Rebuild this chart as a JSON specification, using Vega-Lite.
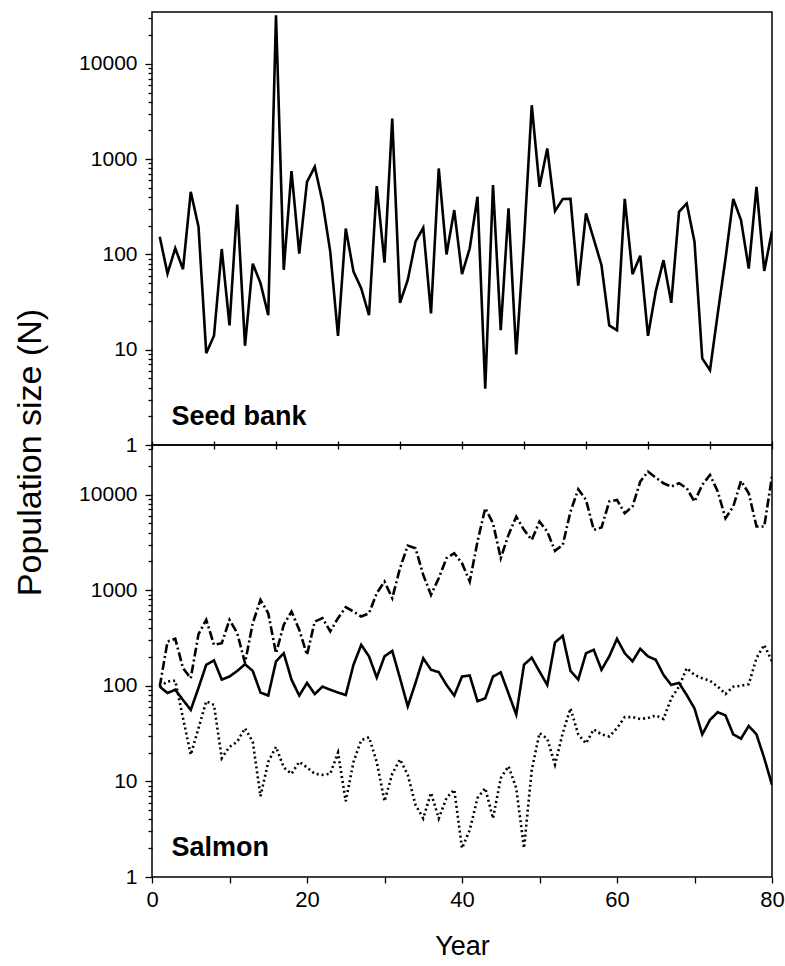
{
  "$schema": "https://vega.github.io/schema/vega-lite/v6.json",
  "padding": {"left": 12, "top": 6, "right": 0, "bottom": 5},
  "background": "white",
  "spacing": 0,
  "bounds": "flush",
  "config": {
    "view": {"stroke": "black", "strokeWidth": 1.5},
    "font": "Liberation Sans",
    "axis": {
      "grid": false,
      "domain": false,
      "tickColor": "black",
      "tickWidth": 1.3,
      "labelColor": "black",
      "titleColor": "black",
      "labelFont": "Liberation Sans",
      "titleFont": "Liberation Sans",
      "titleFontWeight": "normal",
      "labelFontSize": 21,
      "titleFontSize": 27,
      "labelOverlap": false,
      "labelFlush": false
    }
  },
  "datasets": {
    "seed": [
      {"year": 1, "n": 153}, {"year": 2, "n": 63}, {"year": 3, "n": 116}, {"year": 4, "n": 70}, {"year": 5, "n": 454},
      {"year": 6, "n": 195}, {"year": 7, "n": 9.2}, {"year": 8, "n": 14}, {"year": 9, "n": 114}, {"year": 10, "n": 18},
      {"year": 11, "n": 334}, {"year": 12, "n": 11}, {"year": 13, "n": 80}, {"year": 14, "n": 50}, {"year": 15, "n": 23},
      {"year": 16, "n": 32400}, {"year": 17, "n": 69}, {"year": 18, "n": 748}, {"year": 19, "n": 102}, {"year": 20, "n": 578},
      {"year": 21, "n": 831}, {"year": 22, "n": 357}, {"year": 23, "n": 107}, {"year": 24, "n": 14}, {"year": 25, "n": 187},
      {"year": 26, "n": 66}, {"year": 27, "n": 44}, {"year": 28, "n": 23}, {"year": 29, "n": 521}, {"year": 30, "n": 82},
      {"year": 31, "n": 2670}, {"year": 32, "n": 31}, {"year": 33, "n": 54}, {"year": 34, "n": 136}, {"year": 35, "n": 190},
      {"year": 36, "n": 24}, {"year": 37, "n": 798}, {"year": 38, "n": 100}, {"year": 39, "n": 292}, {"year": 40, "n": 62},
      {"year": 41, "n": 116}, {"year": 42, "n": 403}, {"year": 43, "n": 3.9}, {"year": 44, "n": 534}, {"year": 45, "n": 16},
      {"year": 46, "n": 304}, {"year": 47, "n": 8.9}, {"year": 48, "n": 140}, {"year": 49, "n": 3680}, {"year": 50, "n": 512},
      {"year": 51, "n": 1294}, {"year": 52, "n": 285}, {"year": 53, "n": 381}, {"year": 54, "n": 383}, {"year": 55, "n": 47},
      {"year": 56, "n": 269}, {"year": 57, "n": 145}, {"year": 58, "n": 77}, {"year": 59, "n": 18}, {"year": 60, "n": 16},
      {"year": 61, "n": 383}, {"year": 62, "n": 62}, {"year": 63, "n": 97}, {"year": 64, "n": 14}, {"year": 65, "n": 41},
      {"year": 66, "n": 87}, {"year": 67, "n": 31}, {"year": 68, "n": 280}, {"year": 69, "n": 343}, {"year": 70, "n": 136},
      {"year": 71, "n": 8.1}, {"year": 72, "n": 6.1}, {"year": 73, "n": 24}, {"year": 74, "n": 90}, {"year": 75, "n": 383},
      {"year": 76, "n": 229}, {"year": 77, "n": 71}, {"year": 78, "n": 512}, {"year": 79, "n": 67}, {"year": 80, "n": 176}
    ],
    "salmon": [
      {"year": 1, "series": "solid", "n": 98}, {"year": 2, "series": "solid", "n": 84}, {"year": 3, "series": "solid", "n": 91}, {"year": 4, "series": "solid", "n": 71},
      {"year": 5, "series": "solid", "n": 56}, {"year": 6, "series": "solid", "n": 95}, {"year": 7, "series": "solid", "n": 166}, {"year": 8, "series": "solid", "n": 184},
      {"year": 9, "series": "solid", "n": 116}, {"year": 10, "series": "solid", "n": 125}, {"year": 11, "series": "solid", "n": 143}, {"year": 12, "series": "solid", "n": 168},
      {"year": 13, "series": "solid", "n": 143}, {"year": 14, "series": "solid", "n": 85}, {"year": 15, "series": "solid", "n": 79}, {"year": 16, "series": "solid", "n": 180},
      {"year": 17, "series": "solid", "n": 219}, {"year": 18, "series": "solid", "n": 116}, {"year": 19, "series": "solid", "n": 79}, {"year": 20, "series": "solid", "n": 107},
      {"year": 21, "series": "solid", "n": 82}, {"year": 22, "series": "solid", "n": 98}, {"year": 23, "series": "solid", "n": 91}, {"year": 24, "series": "solid", "n": 85},
      {"year": 25, "series": "solid", "n": 80}, {"year": 26, "series": "solid", "n": 166}, {"year": 27, "series": "solid", "n": 268}, {"year": 28, "series": "solid", "n": 203},
      {"year": 29, "series": "solid", "n": 122}, {"year": 30, "series": "solid", "n": 203}, {"year": 31, "series": "solid", "n": 232}, {"year": 32, "series": "solid", "n": 120},
      {"year": 33, "series": "solid", "n": 61}, {"year": 34, "series": "solid", "n": 107}, {"year": 35, "series": "solid", "n": 194}, {"year": 36, "series": "solid", "n": 147},
      {"year": 37, "series": "solid", "n": 139}, {"year": 38, "series": "solid", "n": 102}, {"year": 39, "series": "solid", "n": 79}, {"year": 40, "series": "solid", "n": 125},
      {"year": 41, "series": "solid", "n": 128}, {"year": 42, "series": "solid", "n": 69}, {"year": 43, "series": "solid", "n": 74}, {"year": 44, "series": "solid", "n": 125},
      {"year": 45, "series": "solid", "n": 138}, {"year": 46, "series": "solid", "n": 83}, {"year": 47, "series": "solid", "n": 50}, {"year": 48, "series": "solid", "n": 166},
      {"year": 49, "series": "solid", "n": 197}, {"year": 50, "series": "solid", "n": 141}, {"year": 51, "series": "solid", "n": 102}, {"year": 52, "series": "solid", "n": 284},
      {"year": 53, "series": "solid", "n": 333}, {"year": 54, "series": "solid", "n": 143}, {"year": 55, "series": "solid", "n": 116}, {"year": 56, "series": "solid", "n": 219},
      {"year": 57, "series": "solid", "n": 238}, {"year": 58, "series": "solid", "n": 147}, {"year": 59, "series": "solid", "n": 203}, {"year": 60, "series": "solid", "n": 310},
      {"year": 61, "series": "solid", "n": 219}, {"year": 62, "series": "solid", "n": 180}, {"year": 63, "series": "solid", "n": 244}, {"year": 64, "series": "solid", "n": 203},
      {"year": 65, "series": "solid", "n": 187}, {"year": 66, "series": "solid", "n": 130}, {"year": 67, "series": "solid", "n": 102}, {"year": 68, "series": "solid", "n": 107},
      {"year": 69, "series": "solid", "n": 80}, {"year": 70, "series": "solid", "n": 58}, {"year": 71, "series": "solid", "n": 31}, {"year": 72, "series": "solid", "n": 44},
      {"year": 73, "series": "solid", "n": 53}, {"year": 74, "series": "solid", "n": 49}, {"year": 75, "series": "solid", "n": 31}, {"year": 76, "series": "solid", "n": 28},
      {"year": 77, "series": "solid", "n": 38}, {"year": 78, "series": "solid", "n": 31}, {"year": 79, "series": "solid", "n": 17.5}, {"year": 80, "series": "solid", "n": 9.2},

      {"year": 1, "series": "dashdot", "n": 98}, {"year": 2, "series": "dashdot", "n": 290}, {"year": 3, "series": "dashdot", "n": 310}, {"year": 4, "series": "dashdot", "n": 153},
      {"year": 5, "series": "dashdot", "n": 120}, {"year": 6, "series": "dashdot", "n": 347}, {"year": 7, "series": "dashdot", "n": 490}, {"year": 8, "series": "dashdot", "n": 268},
      {"year": 9, "series": "dashdot", "n": 279}, {"year": 10, "series": "dashdot", "n": 490}, {"year": 11, "series": "dashdot", "n": 355}, {"year": 12, "series": "dashdot", "n": 173},
      {"year": 13, "series": "dashdot", "n": 452}, {"year": 14, "series": "dashdot", "n": 792}, {"year": 15, "series": "dashdot", "n": 574}, {"year": 16, "series": "dashdot", "n": 219},
      {"year": 17, "series": "dashdot", "n": 434}, {"year": 18, "series": "dashdot", "n": 598}, {"year": 19, "series": "dashdot", "n": 385}, {"year": 20, "series": "dashdot", "n": 211},
      {"year": 21, "series": "dashdot", "n": 470}, {"year": 22, "series": "dashdot", "n": 510}, {"year": 23, "series": "dashdot", "n": 370}, {"year": 24, "series": "dashdot", "n": 510},
      {"year": 25, "series": "dashdot", "n": 664}, {"year": 26, "series": "dashdot", "n": 598}, {"year": 27, "series": "dashdot", "n": 530}, {"year": 28, "series": "dashdot", "n": 573},
      {"year": 29, "series": "dashdot", "n": 930}, {"year": 30, "series": "dashdot", "n": 1231}, {"year": 31, "series": "dashdot", "n": 825}, {"year": 32, "series": "dashdot", "n": 1700},
      {"year": 33, "series": "dashdot", "n": 2930}, {"year": 34, "series": "dashdot", "n": 2750}, {"year": 35, "series": "dashdot", "n": 1446}, {"year": 36, "series": "dashdot", "n": 894},
      {"year": 37, "series": "dashdot", "n": 1334}, {"year": 38, "series": "dashdot", "n": 2160}, {"year": 39, "series": "dashdot", "n": 2437}, {"year": 40, "series": "dashdot", "n": 1916},
      {"year": 41, "series": "dashdot", "n": 1233}, {"year": 42, "series": "dashdot", "n": 3226}, {"year": 43, "series": "dashdot", "n": 7200}, {"year": 44, "series": "dashdot", "n": 5014},
      {"year": 45, "series": "dashdot", "n": 2160}, {"year": 46, "series": "dashdot", "n": 3786}, {"year": 47, "series": "dashdot", "n": 5890}, {"year": 48, "series": "dashdot", "n": 4275},
      {"year": 49, "series": "dashdot", "n": 3358}, {"year": 50, "series": "dashdot", "n": 5220}, {"year": 51, "series": "dashdot", "n": 4105}, {"year": 52, "series": "dashdot", "n": 2577},
      {"year": 53, "series": "dashdot", "n": 2978}, {"year": 54, "series": "dashdot", "n": 6640}, {"year": 55, "series": "dashdot", "n": 11370}, {"year": 56, "series": "dashdot", "n": 8800},
      {"year": 57, "series": "dashdot", "n": 4275}, {"year": 58, "series": "dashdot", "n": 4520}, {"year": 59, "series": "dashdot", "n": 8450}, {"year": 60, "series": "dashdot", "n": 8800},
      {"year": 61, "series": "dashdot", "n": 6380}, {"year": 62, "series": "dashdot", "n": 7500}, {"year": 63, "series": "dashdot", "n": 13680}, {"year": 64, "series": "dashdot", "n": 17400},
      {"year": 65, "series": "dashdot", "n": 15060}, {"year": 66, "series": "dashdot", "n": 13130}, {"year": 67, "series": "dashdot", "n": 12130}, {"year": 68, "series": "dashdot", "n": 13130},
      {"year": 69, "series": "dashdot", "n": 11650}, {"year": 70, "series": "dashdot", "n": 8450}, {"year": 71, "series": "dashdot", "n": 12620}, {"year": 72, "series": "dashdot", "n": 16070},
      {"year": 73, "series": "dashdot", "n": 10750}, {"year": 74, "series": "dashdot", "n": 5660}, {"year": 75, "series": "dashdot", "n": 7500}, {"year": 76, "series": "dashdot", "n": 13900},
      {"year": 77, "series": "dashdot", "n": 10320}, {"year": 78, "series": "dashdot", "n": 4630}, {"year": 79, "series": "dashdot", "n": 4630}, {"year": 80, "series": "dashdot", "n": 15500},

      {"year": 1, "series": "dotted", "n": 98}, {"year": 2, "series": "dotted", "n": 111}, {"year": 3, "series": "dotted", "n": 113}, {"year": 4, "series": "dotted", "n": 46},
      {"year": 5, "series": "dotted", "n": 19}, {"year": 6, "series": "dotted", "n": 36}, {"year": 7, "series": "dotted", "n": 69}, {"year": 8, "series": "dotted", "n": 63},
      {"year": 9, "series": "dotted", "n": 17.5}, {"year": 10, "series": "dotted", "n": 23}, {"year": 11, "series": "dotted", "n": 26}, {"year": 12, "series": "dotted", "n": 36},
      {"year": 13, "series": "dotted", "n": 26}, {"year": 14, "series": "dotted", "n": 7}, {"year": 15, "series": "dotted", "n": 16}, {"year": 16, "series": "dotted", "n": 23},
      {"year": 17, "series": "dotted", "n": 14}, {"year": 18, "series": "dotted", "n": 12}, {"year": 19, "series": "dotted", "n": 16}, {"year": 20, "series": "dotted", "n": 14},
      {"year": 21, "series": "dotted", "n": 12}, {"year": 22, "series": "dotted", "n": 11.7}, {"year": 23, "series": "dotted", "n": 12}, {"year": 24, "series": "dotted", "n": 20},
      {"year": 25, "series": "dotted", "n": 6.2}, {"year": 26, "series": "dotted", "n": 16}, {"year": 27, "series": "dotted", "n": 27}, {"year": 28, "series": "dotted", "n": 29},
      {"year": 29, "series": "dotted", "n": 16}, {"year": 30, "series": "dotted", "n": 6.2}, {"year": 31, "series": "dotted", "n": 12}, {"year": 32, "series": "dotted", "n": 17},
      {"year": 33, "series": "dotted", "n": 11.7}, {"year": 34, "series": "dotted", "n": 5.7}, {"year": 35, "series": "dotted", "n": 4.1}, {"year": 36, "series": "dotted", "n": 7.6},
      {"year": 37, "series": "dotted", "n": 4.1}, {"year": 38, "series": "dotted", "n": 6.7}, {"year": 39, "series": "dotted", "n": 8.2}, {"year": 40, "series": "dotted", "n": 2.0},
      {"year": 41, "series": "dotted", "n": 3.1}, {"year": 42, "series": "dotted", "n": 6.7}, {"year": 43, "series": "dotted", "n": 8.5}, {"year": 44, "series": "dotted", "n": 4.1},
      {"year": 45, "series": "dotted", "n": 10.8}, {"year": 46, "series": "dotted", "n": 14.4}, {"year": 47, "series": "dotted", "n": 8.5}, {"year": 48, "series": "dotted", "n": 2.0},
      {"year": 49, "series": "dotted", "n": 13.2}, {"year": 50, "series": "dotted", "n": 32}, {"year": 51, "series": "dotted", "n": 28}, {"year": 52, "series": "dotted", "n": 15},
      {"year": 53, "series": "dotted", "n": 32}, {"year": 54, "series": "dotted", "n": 58}, {"year": 55, "series": "dotted", "n": 31}, {"year": 56, "series": "dotted", "n": 25},
      {"year": 57, "series": "dotted", "n": 35}, {"year": 58, "series": "dotted", "n": 31}, {"year": 59, "series": "dotted", "n": 29.5}, {"year": 60, "series": "dotted", "n": 36},
      {"year": 61, "series": "dotted", "n": 47}, {"year": 62, "series": "dotted", "n": 47}, {"year": 63, "series": "dotted", "n": 45}, {"year": 64, "series": "dotted", "n": 46},
      {"year": 65, "series": "dotted", "n": 49}, {"year": 66, "series": "dotted", "n": 45}, {"year": 67, "series": "dotted", "n": 74}, {"year": 68, "series": "dotted", "n": 98},
      {"year": 69, "series": "dotted", "n": 153}, {"year": 70, "series": "dotted", "n": 130}, {"year": 71, "series": "dotted", "n": 120}, {"year": 72, "series": "dotted", "n": 113},
      {"year": 73, "series": "dotted", "n": 98}, {"year": 74, "series": "dotted", "n": 82}, {"year": 75, "series": "dotted", "n": 98}, {"year": 76, "series": "dotted", "n": 100},
      {"year": 77, "series": "dotted", "n": 104}, {"year": 78, "series": "dotted", "n": 195}, {"year": 79, "series": "dotted", "n": 268}, {"year": 80, "series": "dotted", "n": 180}
    ],
    "seedLabel": [{"label": "Seed bank"}],
    "salmonLabel": [{"label": "Salmon"}]
  },
  "vconcat": [
    {
      "width": 620,
      "height": 433,
      "layer": [
        {
          "data": {"name": "seed"},
          "mark": {"type": "line", "color": "black", "strokeWidth": 2.6, "clip": true},
          "encoding": {
            "x": {
              "field": "year", "type": "quantitative",
              "scale": {"domain": [0, 80], "nice": false, "zero": false},
              "axis": {
                "values": [0, 4, 8, 12, 16, 20, 24, 28, 32, 36, 40, 44, 48, 52, 56, 60, 64, 68, 72, 76, 80],
                "labels": false, "title": null, "tickSize": 8, "offset": -4
              }
            },
            "y": {
              "field": "n", "type": "quantitative",
              "scale": {"type": "log", "domain": [1, 35000], "nice": false},
              "axis": {
                "values": [1, 2, 3, 4, 5, 6, 7, 8, 9, 10, 20, 30, 40, 50, 60, 70, 80, 90, 100, 200, 300, 400, 500, 600, 700, 800, 900, 1000, 2000, 3000, 4000, 5000, 6000, 7000, 8000, 9000, 10000, 20000, 30000],
                "labelExpr": "indexof([1, 10, 100, 1000, 10000], datum.value) >= 0 ? format(datum.value, 'd') : ''",
                "tickSize": {"condition": {"test": "indexof([1, 10, 100, 1000, 10000], datum.value) >= 0", "value": 7}, "value": 4},
                "labelPadding": 8,
                "title": "Population size (N)",
                "titleFontSize": 34,
                "titleAngle": -90,
                "titleX": -122,
                "titleY": 440,
                "titleAlign": "center",
                "titleBaseline": "middle",
                "titleAnchor": null
              }
            }
          }
        },
        {
          "data": {"name": "seedLabel"},
          "mark": {"type": "text", "align": "left", "baseline": "alphabetic", "fontSize": 27, "fontWeight": "bold", "font": "Liberation Sans", "color": "black"},
          "encoding": {
            "x": {"datum": 2.5},
            "y": {"datum": 1.63},
            "text": {"field": "label"}
          }
        }
      ]
    },
    {
      "width": 620,
      "height": 432,
      "layer": [
        {
          "data": {"name": "salmon"},
          "mark": {"type": "line", "color": "black", "strokeWidth": 2.6, "clip": true},
          "encoding": {
            "x": {
              "field": "year", "type": "quantitative",
              "scale": {"domain": [0, 80], "nice": false, "zero": false},
              "axis": {
                "values": [0, 5, 10, 15, 20, 25, 30, 35, 40, 45, 50, 55, 60, 65, 70, 75, 80],
                "labelExpr": "datum.value % 20 == 0 ? format(datum.value, 'd') : ''",
                "tickSize": 6,
                "labelPadding": 6,
                "labelFontSize": 22,
                "title": "Year",
                "titleY": 69,
                "titleBaseline": "middle"
              }
            },
            "y": {
              "field": "n", "type": "quantitative",
              "scale": {"type": "log", "domain": [1, 33000], "nice": false},
              "axis": {
                "values": [1, 2, 3, 4, 5, 6, 7, 8, 9, 10, 20, 30, 40, 50, 60, 70, 80, 90, 100, 200, 300, 400, 500, 600, 700, 800, 900, 1000, 2000, 3000, 4000, 5000, 6000, 7000, 8000, 9000, 10000, 20000, 30000],
                "labelExpr": "indexof([1, 10, 100, 1000, 10000], datum.value) >= 0 ? format(datum.value, 'd') : ''",
                "tickSize": {"condition": {"test": "indexof([1, 10, 100, 1000, 10000], datum.value) >= 0", "value": 7}, "value": 4},
                "labelPadding": 8,
                "title": null
              }
            },
            "strokeDash": {
              "field": "series", "type": "nominal",
              "scale": {"domain": ["solid", "dashdot", "dotted"], "range": [[1, 0], [9, 3, 2, 3], [2, 3]]},
              "legend": null
            }
          }
        },
        {
          "data": {"name": "salmonLabel"},
          "mark": {"type": "text", "align": "left", "baseline": "alphabetic", "fontSize": 27, "fontWeight": "bold", "font": "Liberation Sans", "color": "black"},
          "encoding": {
            "x": {"datum": 2.5},
            "y": {"datum": 1.64},
            "text": {"field": "label"}
          }
        }
      ]
    }
  ]
}
